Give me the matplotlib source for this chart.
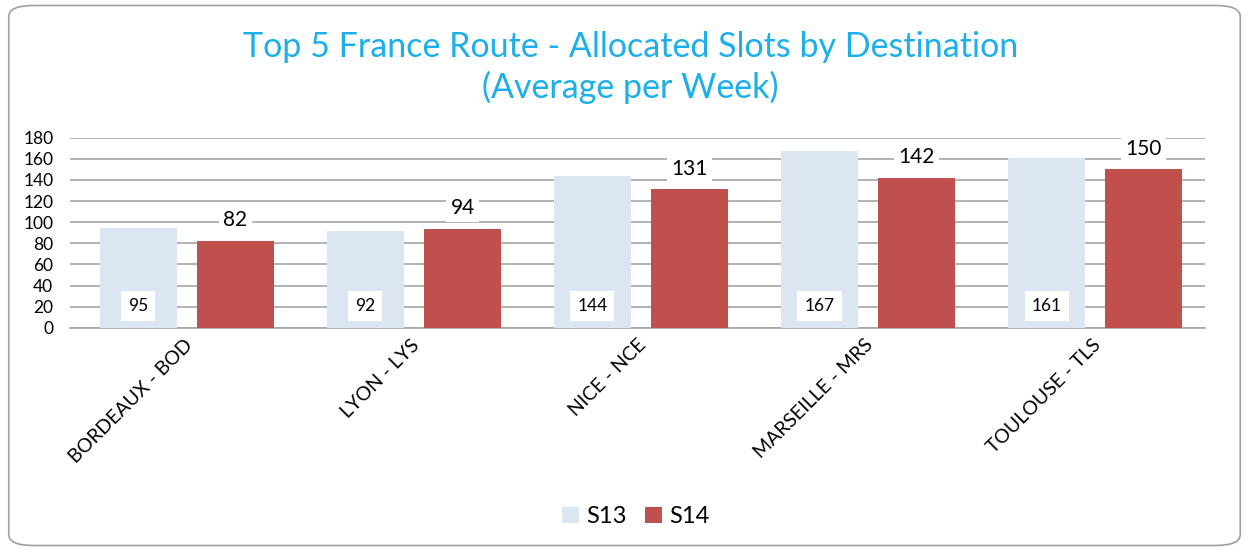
import numpy as np
import matplotlib.pyplot as plt
from matplotlib.patches import FancyBboxPatch

categories = ["BORDEAUX - BOD", "LYON - LYS", "NICE - NCE", "MARSEILLE - MRS", "TOULOUSE - TLS"]
s13 = [95, 92, 144, 167, 161]
s14 = [82, 94, 131, 142, 150]
yticks = [0, 20, 40, 60, 80, 100, 120, 140, 160, 180]

plt.rcParams['font.family'] = ['Lato', 'DejaVu Sans']

fig = plt.figure(figsize=(12.49, 5.51), dpi=100)
ax = fig.add_axes([0.056, 0.405, 0.909, 0.345])

x = np.arange(len(categories))
w = 0.34
gap = 0.088
c13 = '#DCE6F2'
c14 = '#C0504D'
b13 = ax.bar(x - (w + gap) / 2 + 0.015, s13, w, color=c13, label='S13', zorder=3)
b14 = ax.bar(x + (w + gap) / 2 + 0.015, s14, w, color=c14, label='S14', zorder=3)

for rect, v in zip(b13, s13):
    ax.text(rect.get_x() + rect.get_width() / 2, 21, str(v), ha='center', va='center',
            fontsize=12.5, color='black', zorder=5,
            bbox=dict(facecolor='white', edgecolor='none', pad=5))
for rect, v in zip(b14, s14):
    ax.annotate(str(v), (rect.get_x() + rect.get_width() / 2, v), xytext=(0, 15),
                textcoords='offset points', ha='center', va='center', fontsize=15,
                color='black', zorder=5,
                bbox=dict(facecolor='white', edgecolor='none', pad=3))

ax.set_xlim(-0.5, len(categories) - 0.5)
ax.set_ylim(0, 180)
ax.set_yticks(yticks)
ax.yaxis.grid(True, color='#A6A6A6', linewidth=1.2, zorder=0)
ax.set_axisbelow(True)
for s in ['top', 'right', 'left']:
    ax.spines[s].set_visible(False)
ax.spines['bottom'].set_color('#A6A6A6')
ax.spines['bottom'].set_linewidth(1.2)
ax.tick_params(axis='y', length=0, labelsize=12.5, pad=12)
ax.tick_params(axis='x', length=0, labelsize=14, pad=6)
ax.set_xticks(x)
ax.set_xticklabels(categories, rotation=45, ha='right', rotation_mode='anchor')

fig.text(0.505, 0.877, "Top 5 France Route - Allocated Slots by Destination\n(Average per Week)",
         ha='center', va='center', fontsize=24.5, color='#1CAFE9', linespacing=1.3)

fig.legend(handles=[b13, b14], loc='center', bbox_to_anchor=(0.509, 0.062), ncol=2,
           frameon=False, fontsize=17, handlelength=0.7, handleheight=0.7,
           handletextpad=0.3, columnspacing=0.8)

border = FancyBboxPatch((0.007, 0.01), 0.986, 0.98, boxstyle="round,pad=0,rounding_size=0.02",
                        transform=fig.transFigure, facecolor='none', edgecolor='#A0A0A0',
                        linewidth=1.2)
fig.patches.append(border)

fig.savefig('out.png', dpi=100)
